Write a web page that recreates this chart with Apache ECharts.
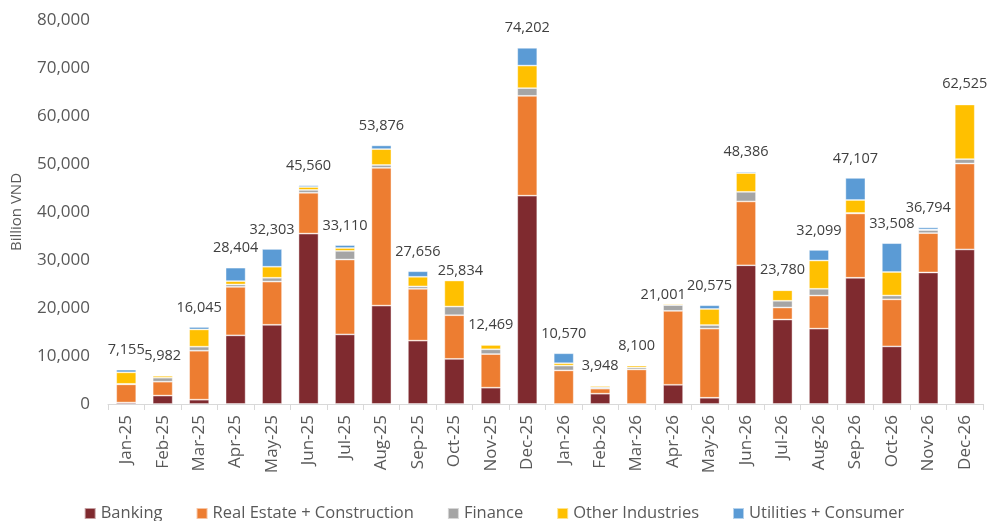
<!DOCTYPE html>
<html>
<head>
<meta charset="utf-8">
<title>Monthly issuance by sector</title>
<script src="https://cdn.jsdelivr.net/npm/echarts@6/dist/echarts.min.js"></script>
<style>
  html, body { margin: 0; padding: 0; background: #fff; }
  #chart { width: 988px; height: 521px; }
</style>
</head>
<body>
<div id="chart"></div>
<script>
// months on the x axis
var months = ['Jan-25', 'Feb-25', 'Mar-25', 'Apr-25', 'May-25', 'Jun-25', 'Jul-25', 'Aug-25',
  'Sep-25', 'Oct-25', 'Nov-25', 'Dec-25', 'Jan-26', 'Feb-26', 'Mar-26', 'Apr-26',
  'May-26', 'Jun-26', 'Jul-26', 'Aug-26', 'Sep-26', 'Oct-26', 'Nov-26', 'Dec-26']

// billion VND
var banking = [300, 1750, 900, 14300, 16500, 35500, 14500, 20500, 13200, 9400, 3400, 43400,
  0, 2150, 0, 4000, 1300, 28900, 17600, 15700, 26300, 12000, 27400, 32200]
var realEstate = [3800, 2900, 10200, 10100, 9000, 8500, 15600, 28700, 10800, 9100, 7000, 20800,
  7000, 1050, 7200, 15400, 14400, 13300, 2500, 6900, 13400, 9800, 8200, 17900]
var finance = [100, 830, 840, 500, 800, 600, 1800, 600, 500, 1800, 1000, 1600,
  1000, 300, 400, 1200, 750, 2000, 1400, 1400, 100, 800, 650, 900]
var otherInd = [2400, 400, 3600, 700, 2300, 600, 600, 3300, 2000, 5434, 900, 4700,
  500, 300, 400, 250, 3350, 3900, 2200, 5900, 2700, 4900, 100, 11400]
var utilities = [555, 102, 505, 2804, 3703, 360, 610, 776, 1156, 100, 169, 3702,
  2070, 148, 100, 151, 775, 286, 80, 2199, 4607, 6008, 444, 125]

// total labels printed above each bar
var totals = [7155, 5982, 16045, 28404, 32303, 45560, 33110, 53876, 27656, 25834, 12469, 74202,
  10570, 3948, 8100, 21001, 20575, 48386, 23780, 32099, 47107, 33508, 36794, 62525]

var FONT = '"Open Sans", "Noto Sans", sans-serif'
var TEXT = '#595959'

// two total labels were nudged in the original to avoid collisions
var labelNudge = { 9: [6, 11], 15: [-10, 11] }

function fmt(v) {
  return v.toString().replace(/\B(?=(\d{3})+(?!\d))/g, ',')
}

function stackSeries(name, data, color) {
  return {
    name: name,
    type: 'bar',
    stack: 'total',
    barWidth: 20,
    data: data,
    itemStyle: {
      color: color,
      borderColor: 'rgba(255,255,255,0.55)',
      borderWidth: 0.8
    },
    emphasis: { disabled: true }
  }
}

var chart = echarts.init(document.getElementById('chart'), null, { renderer: 'canvas' })

var series = [
  stackSeries('Banking', banking, '#7F2A2F'),
  stackSeries('Real Estate + Construction', realEstate, '#ED7D31'),
  stackSeries('Finance', finance, '#A5A5A5'),
  stackSeries('Other Industries', otherInd, '#FFC000'),
  stackSeries('Utilities + Consumer', utilities, '#5B9BD5')
]
// totals sit on the top segment
series[4].data = utilities.map(function (v, i) {
  var item = { value: v }
  if (labelNudge[i]) {
    item.label = { offset: labelNudge[i] }
  }
  return item
})
series[4].label = {
  show: true,
  position: 'top',
  distance: 12,
  color: '#404040',
  fontFamily: FONT,
  fontSize: 14.5,
  formatter: function (p) {
    return fmt(totals[p.dataIndex])
  }
}

chart.setOption({
  animation: false,
  textStyle: { fontFamily: FONT },
  grid: {
    left: 108,
    right: 5,
    top: 20,
    bottom: 117
  },
  legend: {
    top: 500,
    left: 'center',
    itemWidth: 11,
    itemHeight: 11,
    itemGap: 33,
    icon: 'rect',
    textStyle: { color: TEXT, fontSize: 16.5, fontFamily: FONT },
    data: ['Banking', 'Real Estate + Construction', 'Finance', 'Other Industries', 'Utilities + Consumer']
  },
  xAxis: {
    type: 'category',
    data: months,
    axisLine: { lineStyle: { color: '#D9D9D9', width: 1 } },
    axisTick: { show: true, length: 6, lineStyle: { color: '#D9D9D9' } },
    axisLabel: {
      rotate: 90,
      interval: 0,
      margin: 11,
      color: TEXT,
      fontSize: 17,
      fontFamily: FONT
    }
  },
  yAxis: {
    type: 'value',
    min: 0,
    max: 80000,
    interval: 10000,
    name: 'Billion VND',
    nameLocation: 'middle',
    nameRotate: 90,
    nameGap: 84,
    nameTextStyle: { color: TEXT, fontSize: 15, fontFamily: FONT },
    axisLine: { show: false },
    axisTick: { show: false },
    splitLine: { show: false },
    axisLabel: {
      color: TEXT,
      fontSize: 17,
      margin: 18,
      fontFamily: FONT,
      formatter: function (v) { return fmt(v) }
    }
  },
  series: series
})
</script>
</body>
</html>
